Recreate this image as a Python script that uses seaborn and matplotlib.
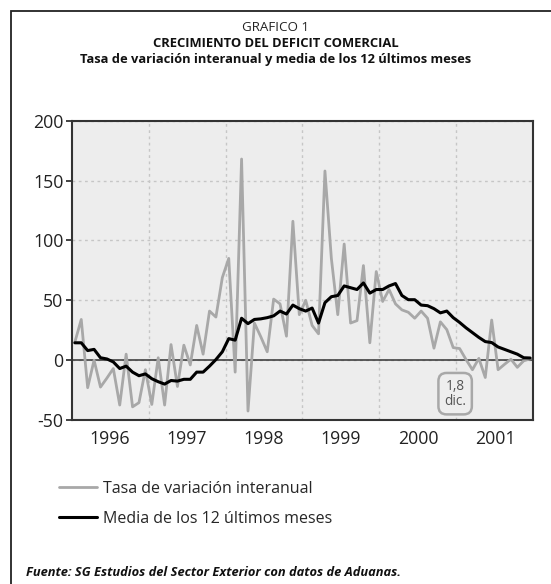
import numpy as np
import pandas as pd
import seaborn as sns
import matplotlib.pyplot as plt
from matplotlib.patches import Rectangle

# ---------------------------------------------------------
# DADES (mensuals, gener 1996 - desembre 2001)
# ---------------------------------------------------------
ANYS = ['1996', '1997', '1998', '1999', '2000', '2001']

TASA_INTERANUAL = [
    15, 34, -23, 0, -22.5, -15, -7, -37.5, 5, -39, -35.5, -8,
    -37, 2, -37.5, 13, -22, 12.5, -4, 29, 5, 41, 36, 69,
    85, -10, 168, -42.5, 31, 19.5, 7, 51, 47, 20, 116, 38,
    50, 29, 22, 158, 85, 38, 97, 31, 33, 79, 14.5, 74,
    49, 59, 47, 42, 40, 35, 41, 35, 10, 32, 25.5, 10.5,
    9.7, 0.5, -8, 1.5, -14.5, 33.5, -8, -3.5, 0.8, -6, -0.5, 1,
]

MEDIA_12_MESES = [
    14.5, 14.5, 8, 9, 2, 1, -1.5, -7, -5, -10, -13, -11.5,
    -15.5, -18, -20, -17, -17.5, -16, -16, -10, -10, -5, 0.5, 7,
    18, 16.7, 35, 30.5, 34, 34.5, 35.5, 37, 41, 38.5, 46, 43,
    41, 43.5, 31, 48, 53, 54, 62, 60.5, 59, 64.5, 56, 59,
    59, 62, 64, 54, 50.5, 50.5, 46, 45.5, 43, 39.5, 41, 35.5,
    31.5, 27, 23, 19, 15.5, 14.7, 11, 9, 7, 5, 2, 1.8,
]

ETIQUETA_FINAL = "1,8\ndic."

LABEL_TASA = 'Tasa de variación interanual'
LABEL_MEDIA = 'Media de los 12 últimos meses'

# ---------------------------------------------------------
# PREPARAR
# ---------------------------------------------------------
n = len(TASA_INTERANUAL)
df = pd.DataFrame({
    'MES': np.arange(n) + 0.5,
    'TASA': TASA_INTERANUAL,
    'MEDIA': MEDIA_12_MESES,
})

sns.set_style("white")
plt.rcParams['font.family'] = ['Open Sans', 'DejaVu Sans']

fig = plt.figure(figsize=(5.51, 5.84), dpi=100)
ax = fig.add_axes([0.130, 0.2808, 0.838, 0.5125])
ax.set_facecolor('#ededed')

sns.lineplot(data=df, x='MES', y='TASA', ax=ax, color='#a8a8a8',
             linewidth=2.0, label=LABEL_TASA, zorder=3)
sns.lineplot(data=df, x='MES', y='MEDIA', ax=ax, color='black',
             linewidth=2.2, label=LABEL_MEDIA, zorder=4)

ax.axhline(0, color='#333333', linewidth=1.1, zorder=2)

# eixos
ax.set_xlim(0, n)
ax.set_ylim(-50, 200)
ax.set_yticks([-50, 0, 50, 100, 150, 200])
ax.set_yticklabels(['-50', '0', '50', '100', '150', '200'])
ax.set_xticks(np.arange(12, n, 12))
ax.set_xticklabels([])
ax.set_xticks(np.arange(6, n, 12), minor=True)
ax.set_xticklabels(ANYS, minor=True)
ax.tick_params(axis='x', which='both', length=0, labelsize=12.8, pad=7,
               colors='#222222')
ax.tick_params(axis='y', length=4, width=1.2, labelsize=12.8, pad=2,
               colors='#222222', left=True)
ax.set_xlabel('')
ax.set_ylabel('')

ax.grid(True, which='major', color='#c6c6c6', linestyle=(0, (2, 2.5)),
        linewidth=1.0, zorder=1)
ax.set_axisbelow(True)
for s in ax.spines.values():
    s.set_color('#333333')
    s.set_linewidth(1.5)

# anotacio ultim valor
ax.text(59.8, -28, ETIQUETA_FINAL, ha='center', va='center', fontsize=9.8,
        color='#555555', linespacing=1.0, zorder=5,
        bbox=dict(boxstyle='round,pad=0.42,rounding_size=0.6',
                  fc='#eeeeee', ec='#a8a8a8', lw=1.8))

# llegenda
ax.get_legend().remove()
h, l = ax.get_legend_handles_labels()
fig.legend(h, l, loc='upper left', bbox_to_anchor=(0.095, 0.188),
           frameon=False, fontsize=11.5, handlelength=2.4,
           handletextpad=0.35, labelspacing=0.88, borderaxespad=0)

# titols
fig.text(0.5, 0.953, 'GRAFICO 1', ha='center', va='center', fontsize=9.6,
         color='#222222')
fig.text(0.5, 0.925, 'CRECIMIENTO DEL DEFICIT COMERCIAL', ha='center',
         va='center', fontsize=9.4, fontweight='bold', color='#111111')
fig.text(0.5, 0.898, 'Tasa de variación interanual y media de los 12 últimos meses',
         ha='center', va='center', fontsize=9.3, fontweight='bold',
         color='#111111')

fig.text(0.047, 0.019, 'Fuente: SG Estudios del Sector Exterior con datos de Aduanas.',
         ha='left', va='center', fontsize=9.3, fontweight='bold',
         style='italic', color='#111111')

# marc
fig.patches.append(Rectangle((11 / 551, -0.2), 1.5, 1.2 - 11 / 584,
                             transform=fig.transFigure, fill=False,
                             edgecolor='#222222', linewidth=1.3))

fig.savefig('out.png', dpi=100)
